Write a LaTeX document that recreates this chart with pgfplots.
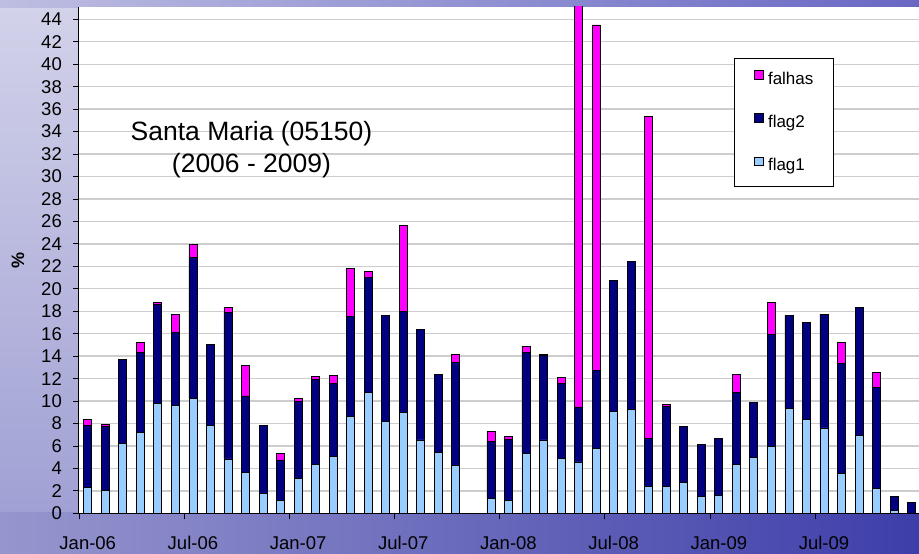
\documentclass[border=0pt]{standalone}
\usepackage{pgfplots}
\pgfplotsset{compat=1.18}
\usepackage{pgfplotstable}
\usepackage{fontspec}
\setmainfont{Liberation Sans}

\definecolor{flagA}{RGB}{153,204,255}
\definecolor{flagB}{RGB}{0,0,128}
\definecolor{falha}{RGB}{255,0,255}
\definecolor{gridc}{RGB}{205,205,205}

% month index (0 = Jan-06), flag1, flag2, falhas; Nov-07 (22) has no data
\pgfplotstableread{
x  f1    f2    fa
0  2.30  5.55  0.50
1  2.05  5.65  0.20
2  6.20  7.50  0.00
3  7.18  7.15  0.92
4  9.79  8.85  0.17
5  9.61  6.53  1.60
6  10.24 12.56 1.15
7  7.83  7.21  0.00
8  4.84  13.05 0.45
9  3.65  6.80  2.70
10 1.78  6.05  0.00
11 1.16  3.59  0.59
12 3.12  6.88  0.27
13 4.36  7.60  0.21
14 5.10  6.44  0.77
15 8.63  8.91  4.24
16 10.77 10.21 0.53
17 8.16  9.44  0.06
18 8.99  9.01  7.67
19 6.53  9.85  0.00
20 5.46  6.88  0.00
21 4.27  9.14  0.74
23 1.34  5.04  0.92
24 1.16  5.46  0.23
25 5.37  8.96  0.54
26 6.53  7.51  0.11
27 4.90  6.67  0.57
28 4.57  4.90  40.00
29 5.79  6.94  30.77
30 9.05  11.66 0.00
31 9.26  13.18 0.00
32 2.37  4.31  28.70
33 2.37  7.18  0.15
34 2.76  5.01  0.00
35 1.51  4.63  0.00
36 1.57  5.08  0.00
37 4.36  6.44  1.60
38 5.01  4.87  0.00
39 5.96  9.97  2.88
40 9.32  8.34  0.00
41 8.34  8.66  0.00
42 7.60  10.14 0.00
43 3.53  9.85  1.84
44 6.91  11.46 0.00
45 2.23  8.96  1.39
46 0.27  1.24  0.00
47 0.00  0.98  0.00
}\santamaria

\pgfplotsset{sq legend/.style={legend image code/.code={
  \draw[##1, line width=0.6pt] (0pt,1pt) rectangle (9pt,9.5pt);}}}

\begin{document}
\begin{tikzpicture}[x=1pt,y=1pt]
\path[use as bounding box] (0,0) rectangle (919,554);
\clip (0,0) rectangle (919,554);
% backdrop
\shade[left color={rgb,255:red,212;green,212;blue,236}, right color={rgb,255:red,96;green,96;blue,188}] (0,0) rectangle (919,554);
\shade[top color={rgb,255:red,210;green,210;blue,234}, bottom color={rgb,255:red,160;green,160;blue,212}] (0,40) rectangle (80,548);
\shade[left color={rgb,255:red,150;green,150;blue,206}, right color={rgb,255:red,62;green,62;blue,170}] (0,0) rectangle (919,41);
\shade[left color={rgb,255:red,190;green,190;blue,226}, right color={rgb,255:red,104;green,104;blue,196}] (0,546) rectangle (919,554);

\begin{axis}[
  at={(79pt,40.7pt)}, anchor=south west,
  scale only axis, width=841.4pt, height=506.3pt,
  ybar stacked, bar width=8pt,
  xmin=-0.5, xmax=47.5, ymin=0, ymax=45.1,
  axis background/.style={fill=white},
  axis x line*=bottom, axis y line*=left,
  axis line style={-, line width=1pt, black},
  tick align=outside, major tick length=6pt,
  tick style={black, line width=0.8pt},
  /pgf/number format/assume math mode=true,
  ytick={0,2,...,44},
  ymajorgrids, grid style={line width=1.4pt, gridc},
  xtick={-0.5,5.5,...,47.5}, xticklabels={},
  extra x ticks={0,6,...,42},
  extra x tick labels={Jan-06,Jul-06,Jan-07,Jul-07,Jan-08,Jul-08,Jan-09,Jul-09},
  extra x tick style={major tick length=0pt, grid=none},
  xticklabel style={font=\fontsize{18.5}{20}\selectfont, inner sep=0pt, anchor=north, yshift=-23pt},
  yticklabel style={font=\fontsize{18.5}{20}\selectfont, inner sep=0pt, anchor=east, xshift=-11pt},
  ylabel={\bfseries\%},
  ylabel style={font=\fontsize{18}{20}\selectfont, at={(axis description cs:-0.0725,0.5)}, anchor=center},
  reverse legend,
  legend cell align=left,
  legend style={at={(axis description cs:0.7785,0.8993)}, anchor=north west,
    draw=black, line width=0.8pt, fill=white,
    font=\fontsize{17}{20}\selectfont,
    inner xsep=20pt, inner ysep=12pt, row sep=25.3pt, column sep=4pt,
    nodes={inner sep=0pt, text height=12.5pt, text depth=3.5pt}},
]
\addplot[fill=flagA, draw=black, line width=0.8pt, sq legend] table[x=x, y=f1] {\santamaria};
\addplot[fill=flagB, draw=black, line width=0.8pt, sq legend] table[x=x, y=f2] {\santamaria};
\addplot[fill=falha, draw=black, line width=0.8pt, sq legend] table[x=x, y=fa] {\santamaria};
\legend{flag1, flag2, falhas}
\end{axis}

\node[font=\fontsize{26.5}{32}\selectfont, align=center] at (251.5,404) {Santa Maria (05150)\\(2006 - 2009)};
\end{tikzpicture}
\end{document}
